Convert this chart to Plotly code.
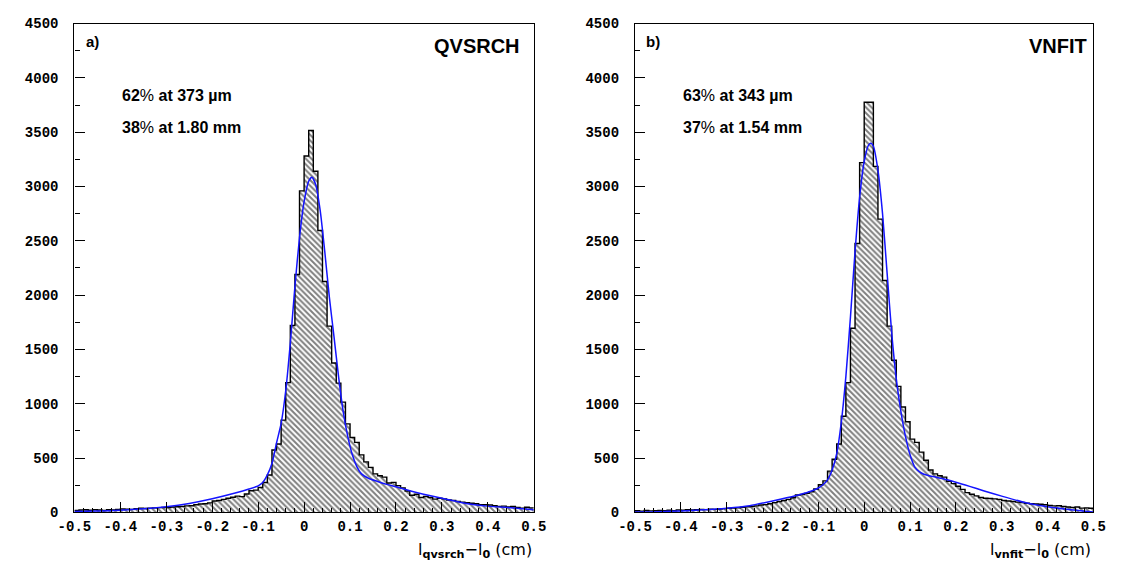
import plotly.graph_objects as go

# ---------------- data ----------------
bin_start = -0.5
bin_width = 0.01

# Panel a) QVSRCH : counts per 0.01 cm bin, from -0.50 to 0.50
counts_qvsrch = [
    18, 22, 25, 20, 24, 22, 18, 25, 22, 28,
    32, 30, 28, 35, 38, 36, 40, 42, 44, 46,
    45, 50, 52, 55, 60, 62, 70, 78, 80, 88,
    105, 110, 120, 130, 140, 150, 145, 170, 200, 205,
    230, 275, 345, 575, 630, 850, 1195, 1720, 2190, 2960,
    3280, 3515, 3140, 2595, 2125, 1715, 1375, 1190, 1015, 815,
    690, 645, 530, 465, 415, 355, 337, 325, 271, 277,
    247, 226, 197, 158, 167, 137, 146, 137, 122, 130,
    125, 115, 110, 100, 95, 90, 85, 80, 72, 70,
    68, 62, 55, 58, 50, 55, 45, 40, 48, 42,
]

# Panel b) VNFIT
counts_vnfit = [
    15, 12, 18, 14, 16, 18, 15, 20, 17, 22,
    20, 24, 22, 25, 28, 26, 30, 28, 32, 35,
    38, 40, 42, 48, 52, 55, 60, 68, 72, 80,
    90, 100, 110, 120, 135, 160, 165, 175, 190, 215,
    255, 290, 380, 490, 630, 885, 1195, 1695, 2475, 3220,
    3775, 3775, 3185, 2700, 2135, 1715, 1400, 1160, 970, 835,
    675, 645, 555, 480, 390, 355, 337, 325, 286, 265,
    241, 212, 182, 167, 152, 137, 130, 128, 125, 120,
    110, 105, 100, 95, 92, 85, 80, 78, 75, 70,
    65, 60, 62, 55, 50, 45, 50, 40, 42, 38,
]

# fitted curves
fit_qvsrch_x = [-0.50, -0.45, -0.40, -0.35, -0.30, -0.25, -0.20, -0.15, -0.12, -0.10,
                -0.09, -0.08, -0.07, -0.06, -0.05, -0.04, -0.03, -0.02, -0.01, 0.00,
                0.01, 0.017, 0.025, 0.035, 0.045, 0.055, 0.065, 0.075, 0.085, 0.095,
                0.105, 0.115, 0.125, 0.14, 0.16, 0.18, 0.20, 0.23, 0.26, 0.30,
                0.35, 0.40, 0.45, 0.50]
fit_qvsrch_y = [8, 12, 20, 33, 52, 82, 125, 178, 215, 245,
                275, 345, 450, 640, 820, 1120, 1560, 2080, 2530, 2860,
                3050, 3085, 3020, 2780, 2400, 1980, 1620, 1250, 930, 700,
                530, 420, 355, 315, 285, 258, 236, 200, 168, 130,
                85, 58, 42, 25]

fit_vnfit_x = [-0.50, -0.45, -0.40, -0.35, -0.30, -0.25, -0.20, -0.15, -0.12, -0.10,
               -0.09, -0.08, -0.07, -0.06, -0.05, -0.04, -0.03, -0.02, -0.01, 0.00,
               0.01, 0.015, 0.02, 0.03, 0.04, 0.05, 0.06, 0.07, 0.08, 0.09,
               0.10, 0.11, 0.12, 0.13, 0.15, 0.17, 0.20, 0.23, 0.26, 0.30,
               0.35, 0.40, 0.45, 0.50]
fit_vnfit_y = [3, 6, 14, 24, 39, 62, 105, 153, 190, 225,
               255, 300, 390, 540, 830, 1250, 1800, 2400, 2900, 3230,
               3385, 3398, 3370, 3150, 2750, 2200, 1650, 1230, 930, 700,
               530, 420, 375, 352, 330, 312, 278, 240, 200, 150,
               92, 52, 25, 5]

x_tick_vals = [-0.5, -0.4, -0.3, -0.2, -0.1, 0.0, 0.1, 0.2, 0.3, 0.4, 0.5]
x_tick_labels = ["-0.5", "-0.4", "-0.3", "-0.2", "-0.1", "0", "0.1", "0.2", "0.3", "0.4", "0.5"]
y_tick_vals = [0, 500, 1000, 1500, 2000, 2500, 3000, 3500, 4000, 4500]
y_tick_labels = ["0", "500", "1000", "1500", "2000", "2500", "3000", "3500", "4000", "4500"]

panel_letters = ["a)", "b)"]
panel_titles = ["QVSRCH", "VNFIT"]
core_fraction = ["62", "63"]
core_width = ["373 \u00b5m", "343 \u00b5m"]
tail_fraction = ["38", "37"]
tail_width = ["1.80 mm", "1.54 mm"]
x_titles = ["l<sub><b>qvsrch</b></sub>\u2212l<sub><b>0</b></sub> (cm)",
            "l<sub><b>vnfit</b></sub>\u2212l<sub><b>0</b></sub> (cm)"]

# ---------------- figure ----------------
W, H = 1121, 571
edges = [round(bin_start + bin_width * i, 4) for i in range(len(counts_qvsrch) + 1)]

fig = go.Figure()

panels = [(counts_qvsrch, fit_qvsrch_x, fit_qvsrch_y, "x", "y"),
          (counts_vnfit, fit_vnfit_x, fit_vnfit_y, "x2", "y2")]

for counts, fx, fy, xa, ya in panels:
    fig.add_trace(go.Scatter(
        x=edges, y=counts + [counts[-1]], xaxis=xa, yaxis=ya,
        mode="lines", line=dict(shape="hv", color="black", width=1.4),
        fill="tozeroy", fillcolor="white",
        fillpattern=dict(shape="\\", fgcolor="black", bgcolor="white", size=4, solidity=0.5),
        showlegend=False, hoverinfo="skip"))
    fig.add_trace(go.Scatter(
        x=fx, y=fy, xaxis=xa, yaxis=ya, mode="lines",
        line=dict(color="#1414ff", width=1.5, shape="spline", smoothing=0.6),
        showlegend=False, hoverinfo="skip"))

tick_font = dict(family="Liberation Mono", size=14, color="black", weight="bold")

def xaxis_cfg(domain, anchor):
    return dict(domain=domain, anchor=anchor, range=[-0.5, 0.5],
                tickmode="array", tickvals=x_tick_vals, ticktext=x_tick_labels,
                ticks="inside", ticklen=10, tickwidth=1.2, tickcolor="black",
                minor=dict(dtick=0.02, tick0=0, ticks="inside", ticklen=4, tickwidth=1, tickcolor="black"),
                showline=True, linecolor="black", linewidth=1.3, mirror=True,
                showgrid=False, zeroline=False, tickfont=tick_font, ticklabelstandoff=1)

def yaxis_cfg(domain, anchor):
    return dict(domain=domain, anchor=anchor, range=[0, 4500],
                tickmode="array", tickvals=y_tick_vals, ticktext=y_tick_labels,
                ticks="inside", ticklen=10, tickwidth=1.2, tickcolor="black",
                minor=dict(dtick=250, tick0=0, ticks="inside", ticklen=5, tickwidth=1, tickcolor="black"),
                showline=True, linecolor="black", linewidth=1.3, mirror=True,
                showgrid=False, zeroline=False, tickfont=tick_font, ticklabelstandoff=12)

ydom = [1 - 520 / H, 1 - 17 / H]
xdom_a = [59 / W, 531 / W]
xdom_b = [635 / W, 1106 / W]

fig.update_layout(
    width=W, height=H,
    margin=dict(l=0, r=0, t=0, b=0),
    paper_bgcolor="white", plot_bgcolor="white",
    xaxis=xaxis_cfg(xdom_a, "y"), yaxis=yaxis_cfg(ydom, "x"),
    xaxis2=xaxis_cfg(xdom_b, "y2"), yaxis2=yaxis_cfg(ydom, "x2"),
)

ann = []
label_font = dict(family="Liberation Sans", size=16, color="black")
placements = [("x domain", "y domain", 0.021, 0.974, 0.100),
              ("x2 domain", "y2 domain", 0.020, 0.991, 0.100)]
for k, (xr, yr, xl, xt, xp) in enumerate(placements):
    ann.append(dict(xref=xr, yref=yr, x=xl, y=0.964, xanchor="left", yanchor="middle",
                    text="<b>" + panel_letters[k] + "</b>", showarrow=False,
                    font=dict(family="Liberation Sans", size=15, color="black")))
    ann.append(dict(xref=xr, yref=yr, x=xt, y=0.954, xanchor="right", yanchor="middle",
                    text="<b>" + panel_titles[k] + "</b>", showarrow=False,
                    font=dict(family="Liberation Sans", size=20, color="black")))
    ann.append(dict(xref=xr, yref=yr, x=xp, y=0.853, xanchor="left", yanchor="middle",
                    text="<b>" + core_fraction[k] + "</b>%<b> at " + core_width[k] + "</b>",
                    showarrow=False, font=label_font))
    ann.append(dict(xref=xr, yref=yr, x=xp, y=0.787, xanchor="left", yanchor="middle",
                    text="<b>" + tail_fraction[k] + "</b>%<b> at " + tail_width[k] + "</b>",
                    showarrow=False, font=label_font))
    ann.append(dict(xref=xr, yref=yr, x=1.0, y=-0.078, xanchor="right", yanchor="middle",
                    text=x_titles[k], showarrow=False,
                    font=dict(family="DejaVu Sans", size=16, color="black")))
fig.update_layout(annotations=ann)

fig.write_html("out.html")
